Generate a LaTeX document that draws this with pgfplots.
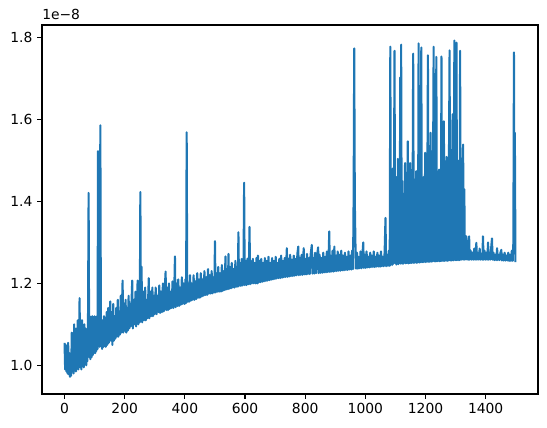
\documentclass[border=0pt]{standalone}
\usepackage{fontspec}
\setmainfont{DejaVu Sans}
\usepackage{pgfplots}
\pgfplotsset{compat=1.18}
\definecolor{mplblue}{HTML}{1F77B4}
\begin{document}
\begin{tikzpicture}
\begin{axis}[
  name=ax,
  scale only axis,
  width=372pt, height=276.75pt,
  xmin=-74.95, xmax=1573.95,
  ymin=0.930, ymax=1.831,
  xtick={0,200,400,600,800,1000,1200,1400},
  ytick={1.0,1.2,1.4,1.6,1.8},
  xticklabel style={/pgf/number format/.cd,1000 sep={}},
  yticklabel style={/pgf/number format/.cd,fixed,fixed zerofill,precision=1},
  /pgf/number format/assume math mode=true,
  tick label style={font=\fontsize{10.4}{12}\selectfont, text=black},
  tick align=outside,
  major tick length=3.65pt,
  tick style={line width=0.83pt, black},
  axis line style={line width=0.83pt},
  xtick pos=bottom, ytick pos=left,
  axis lines*=box,
]
\addplot[mplblue, line width=1.56pt, line join=round, mark=none] table {
x y
0 1.055
2 0.99
4 1.05
6 0.985
8 1.045
10 0.98
12 1.055
14 0.978
16 1.03
18 0.972
20 1.02
22 0.975
24 1.08
26 0.985
28 1.07
30 0.98
32 1.10
34 0.99
36 1.06
38 0.985
40 1.09
42 0.995
44 1.11
46 0.99
48 1.06
50 1.164
52 0.995
54 1.08
56 0.99
58 1.11
60 1.0
62 1.07
64 0.995
66 1.10
68 1.005
70 1.09
72 1.0
74 1.06
76 1.01
78 1.11
80 1.421
82 1.02
84 1.12
86 1.015
88 1.09
90 1.02
92 1.12
94 1.025
96 1.08
98 1.03
100 1.12
102 1.03
104 1.10
106 1.035
108 1.12
110 1.04
111 1.523
113 1.05
115 1.10
117 1.045
119 1.586
121 1.06
123 1.10
125 1.04
127 1.11
129 1.045
131 1.12
133 1.05
135 1.10
137 1.045
140 1.13
142 1.05
145 1.14
147 1.055
150 1.12
152 1.156
154 1.06
157 1.13
159 1.05
162 1.15
164 1.06
167 1.12
169 1.065
172 1.14
174 1.07
177 1.16
179 1.07
182 1.13
184 1.075
187 1.17
189 1.08
193 1.207
195 1.08
198 1.15
200 1.085
203 1.16
205 1.08
208 1.14
210 1.085
213 1.17
215 1.09
218 1.15
220 1.095
225 1.207
227 1.09
230 1.16
232 1.1
236 1.18
238 1.095
243 1.207
245 1.1
248 1.17
250 1.105
252 1.423
254 1.11
256 1.241
258 1.105
262 1.18
264 1.11
268 1.19
270 1.11
274 1.16
276 1.115
280 1.213
282 1.115
286 1.18
288 1.12
292 1.19
294 1.12
298 1.17
300 1.125
303 1.19
306 1.125
309 1.17
312 1.13
315 1.195
318 1.128
321 1.18
324 1.13
327 1.20
330 1.132
333 1.185
336 1.229
338 1.135
341 1.19
344 1.135
347 1.20
350 1.138
353 1.18
356 1.14
359 1.205
362 1.14
365 1.19
367 1.266
369 1.142
372 1.20
375 1.145
378 1.21
381 1.145
384 1.19
387 1.148
390 1.215
393 1.15
396 1.20
399 1.15
402 1.21
404 1.152
406 1.569
408 1.155
411 1.20
414 1.155
417 1.22
420 1.158
423 1.20
426 1.16
429 1.22
432 1.16
435 1.205
438 1.162
441 1.225
444 1.165
447 1.21
450 1.165
453 1.225
456 1.168
459 1.21
462 1.17
465 1.23
468 1.172
471 1.215
474 1.172
477 1.235
480 1.175
483 1.22
486 1.175
489 1.23
492 1.176
495 1.215
498 1.178
500 1.303
502 1.178
505 1.225
508 1.18
511 1.24
514 1.18
517 1.225
520 1.18
523 1.245
526 1.182
529 1.23
532 1.184
535 1.266
537 1.185
540 1.235
543 1.186
545 1.272
547 1.187
550 1.24
553 1.188
556 1.25
559 1.19
562 1.235
565 1.19
568 1.255
571 1.192
574 1.24
576 1.192
578 1.325
580 1.194
583 1.25
586 1.194
589 1.26
592 1.195
595 1.245
597 1.446
599 1.196
602 1.255
605 1.196
608 1.26
611 1.198
613 1.25
615 1.338
617 1.198
620 1.255
623 1.2
626 1.26
629 1.2
632 1.25
635 1.2
638 1.262
641 1.2
643 1.268
645 1.202
648 1.255
651 1.203
654 1.26
657 1.204
660 1.25
663 1.205
666 1.262
669 1.206
672 1.255
675 1.207
678 1.265
681 1.208
684 1.25
687 1.209
690 1.262
693 1.21
696 1.255
699 1.211
702 1.265
705 1.212
708 1.25
711 1.213
714 1.26
717 1.213
720 1.268
723 1.214
726 1.255
729 1.215
732 1.262
735 1.216
739 1.286
741 1.216
744 1.26
747 1.217
750 1.27
753 1.218
756 1.258
759 1.218
762 1.268
765 1.219
768 1.26
771 1.22
774 1.272
777 1.29
779 1.22
782 1.262
785 1.221
788 1.27
791 1.221
795 1.286
797 1.222
800 1.26
803 1.222
806 1.272
809 1.223
812 1.262
815 1.223
818 1.27
822 1.294
824 1.224
827 1.262
830 1.224
833 1.275
836 1.225
839 1.265
843 1.288
845 1.225
848 1.27
851 1.226
854 1.262
857 1.226
860 1.275
863 1.227
866 1.265
869 1.227
872 1.278
875 1.228
878 1.27
880 1.327
882 1.228
885 1.268
888 1.229
891 1.28
894 1.229
897 1.29
899 1.23
902 1.268
905 1.23
908 1.278
911 1.231
914 1.27
917 1.231
920 1.28
923 1.232
926 1.268
929 1.232
932 1.275
935 1.233
938 1.265
941 1.233
944 1.278
947 1.234
950 1.268
953 1.234
956 1.28
959 1.235
961 1.409
963 1.774
965 1.40
967 1.30
969 1.236
972 1.275
975 1.236
978 1.265
981 1.237
984 1.278
987 1.237
990 1.268
993 1.30
995 1.238
998 1.27
1001 1.238
1004 1.278
1007 1.239
1010 1.265
1013 1.239
1016 1.275
1019 1.24
1022 1.268
1025 1.24
1028 1.278
1031 1.24
1034 1.265
1037 1.241
1040 1.275
1043 1.241
1046 1.268
1049 1.241
1052 1.278
1055 1.242
1058 1.265
1061 1.242
1064 1.275
1067 1.36
1069 1.242
1072 1.27
1075 1.243
1078 1.28
1081 1.243
1083 1.778
1085 1.25
1087 1.45
1089 1.245
1091 1.48
1093 1.248
1095 1.42
1097 1.768
1099 1.25
1101 1.46
1103 1.246
1105 1.40
1107 1.25
1108 1.504
1110 1.247
1112 1.44
1114 1.25
1116 1.703
1118 1.248
1119 1.783
1121 1.25
1123 1.45
1125 1.248
1127 1.38
1129 1.25
1132 1.494
1134 1.249
1136 1.43
1138 1.25
1141 1.547
1143 1.249
1145 1.41
1147 1.25
1149 1.494
1151 1.25
1153 1.44
1155 1.25
1157 1.39
1159 1.761
1161 1.25
1163 1.45
1165 1.251
1167 1.40
1169 1.474
1171 1.25
1173 1.43
1175 1.252
1177 1.786
1179 1.251
1181 1.45
1183 1.252
1186 1.776
1188 1.252
1190 1.42
1192 1.252
1194 1.46
1196 1.253
1199 1.519
1201 1.252
1203 1.44
1205 1.253
1208 1.757
1210 1.253
1212 1.45
1214 1.253
1217 1.568
1219 1.253
1221 1.42
1223 1.254
1225 1.46
1227 1.778
1229 1.254
1231 1.44
1233 1.254
1236 1.753
1238 1.254
1240 1.45
1242 1.255
1245 1.478
1247 1.254
1249 1.42
1251 1.255
1253 1.754
1255 1.255
1257 1.46
1259 1.255
1261 1.596
1263 1.255
1265 1.44
1267 1.256
1270 1.509
1272 1.255
1274 1.45
1276 1.256
1280 1.769
1282 1.256
1284 1.47
1286 1.256
1288 1.44
1290 1.613
1292 1.256
1294 1.48
1296 1.793
1298 1.257
1300 1.45
1301 1.257
1303 1.788
1305 1.257
1307 1.46
1309 1.257
1311 1.50
1313 1.257
1315 1.768
1317 1.258
1319 1.45
1321 1.258
1323 1.48
1325 1.539
1327 1.258
1329 1.43
1331 1.258
1333 1.29
1336 1.315
1338 1.258
1341 1.28
1343 1.258
1345 1.315
1347 1.258
1350 1.28
1353 1.258
1356 1.275
1359 1.258
1362 1.285
1365 1.258
1369 1.299
1371 1.258
1374 1.275
1377 1.258
1380 1.285
1383 1.258
1386 1.27
1389 1.258
1391 1.315
1393 1.258
1396 1.28
1399 1.258
1402 1.275
1405 1.258
1408 1.30
1410 1.258
1413 1.275
1416 1.258
1418 1.285
1421 1.31
1423 1.258
1426 1.275
1429 1.257
1432 1.27
1435 1.257
1438 1.286
1440 1.257
1443 1.27
1446 1.257
1449 1.275
1452 1.282
1454 1.256
1457 1.27
1460 1.256
1463 1.275
1466 1.256
1469 1.268
1472 1.256
1475 1.275
1478 1.255
1481 1.27
1484 1.255
1487 1.28
1490 1.255
1492 1.30
1494 1.764
1496 1.30
1497 1.568
1499 1.252
};
\end{axis}
\node[anchor=south west, inner sep=0pt, font=\fontsize{10.4}{12}\selectfont] at ([yshift=4pt]ax.north west) {1e−8};
\pgfresetboundingbox
\path ([xshift=-31.5pt,yshift=-25.5pt]ax.south west) rectangle ([xshift=6.75pt,yshift=18.75pt]ax.north east);
\end{tikzpicture}
\end{document}
